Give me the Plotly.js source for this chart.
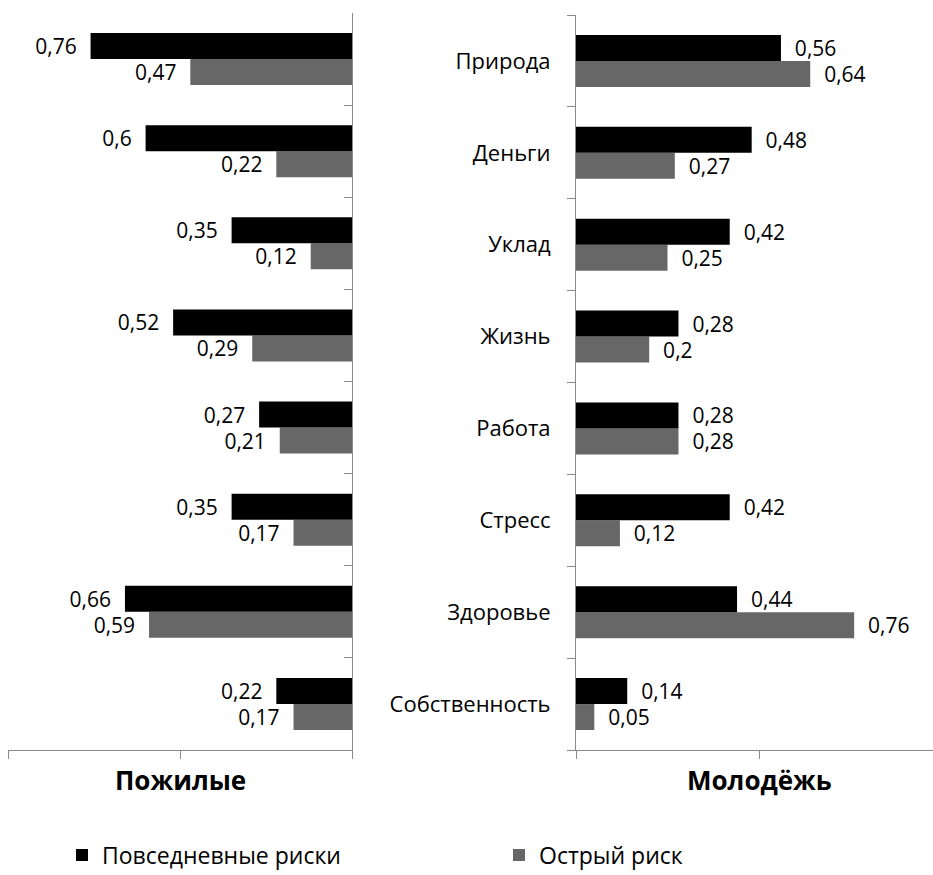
<!DOCTYPE html>
<html>
<head>
<meta charset="utf-8">
<script src="https://cdn.plot.ly/plotly-3.0.1.min.js"></script>
<style>html,body{margin:0;padding:0;background:#fff;}#chart{width:933px;height:875px;}</style>
</head>
<body>
<div id="chart"></div>
<script>
// Categories, listed bottom to top
const categories = ['Собственность', 'Здоровье', 'Стресс', 'Работа', 'Жизнь', 'Уклад', 'Деньги', 'Природа'];
const seriesNames = ['Повседневные риски', 'Острый риск'];

// Пожилые (elderly), bottom to top
const elderlyDaily = [0.22, 0.66, 0.35, 0.27, 0.52, 0.35, 0.60, 0.76];
const elderlyAcute = [0.17, 0.59, 0.17, 0.21, 0.29, 0.12, 0.22, 0.47];

// Молодёжь (youth), bottom to top
const youthDaily = [0.14, 0.44, 0.42, 0.28, 0.28, 0.42, 0.48, 0.56];
const youthAcute = [0.05, 0.76, 0.12, 0.28, 0.20, 0.25, 0.27, 0.64];

const panelTitles = ['Пожилые', 'Молодёжь'];

const FONT = 'Open Sans, Noto Sans, sans-serif';
const BLACK = '#000000';
const GRAY = '#676767';
const AXIS = '#8a8a8a';
const NB = '\u00a0\u00a0';

const fmt = v => String(v).replace('.', ',');

function barTrace(vals, color, name, xa, ya, showlegend, leftSide, legendId) {
  return {
    type: 'bar', orientation: 'h',
    x: vals, y: categories, name: name,
    xaxis: xa, yaxis: ya,
    marker: {color: color},
    text: vals.map(v => leftSide ? fmt(v) + NB : NB + fmt(v)),
    textposition: 'outside',
    constraintext: 'none',
    cliponaxis: false,
    textfont: {family: FONT, size: 21, color: '#000'},
    showlegend: showlegend,
    legend: legendId || 'legend',
    hoverinfo: 'skip'
  };
}

const data = [
  barTrace(elderlyAcute, GRAY, seriesNames[1], 'x', 'y', false, true),
  barTrace(elderlyDaily, BLACK, seriesNames[0], 'x', 'y', false, true),
  barTrace(youthAcute, GRAY, seriesNames[1], 'x2', 'y2', true, false, 'legend2'),
  barTrace(youthDaily, BLACK, seriesNames[0], 'x2', 'y2', true, false, 'legend')
];

const W = 933, H = 875;
const px = v => v / W;
const py = v => (H - v) / H;

const legendBase = {
  orientation: 'h', yanchor: 'middle', xanchor: 'left', y: py(855),
  font: {family: FONT, size: 23, color: '#000'},
  bgcolor: 'rgba(0,0,0,0)'
};

const layout = {
  width: W, height: H,
  margin: {l: 0, r: 0, t: 0, b: 0, autoexpand: false},
  paper_bgcolor: '#fff', plot_bgcolor: '#fff',
  font: {family: FONT, size: 21, color: '#000'},
  barmode: 'group', bargap: 0.435, bargroupgap: 0,
  showlegend: true,
  legend: Object.assign({}, legendBase, {x: px(62)}),
  legend2: Object.assign({}, legendBase, {x: px(499)}),
  xaxis: {
    domain: [px(8), px(352)], range: [1, 0], anchor: 'y',
    showgrid: false, zeroline: false, showline: true, linecolor: AXIS, linewidth: 1,
    ticks: 'outside', ticklen: 8, tickcolor: AXIS, tickvals: [0, 0.5, 1], showticklabels: false,
    fixedrange: true
  },
  yaxis: {
    domain: [py(750), py(13)], anchor: 'x', side: 'right',
    type: 'category', categoryorder: 'array', categoryarray: categories,
    showgrid: false, zeroline: false, showline: true, linecolor: AXIS, linewidth: 1,
    ticks: 'inside', ticklen: 8, tickcolor: AXIS, tickson: 'boundaries', showticklabels: false,
    fixedrange: true
  },
  xaxis2: {
    domain: [px(576), 1], range: [0, (W - 576) / 366], anchor: 'y2',
    showgrid: false, zeroline: false, showline: true, linecolor: AXIS, linewidth: 1,
    ticks: 'outside', ticklen: 8, tickcolor: AXIS, tickvals: [0, 0.5, 1], showticklabels: false,
    fixedrange: true
  },
  yaxis2: {
    domain: [py(750), py(15)], anchor: 'x2',
    type: 'category', categoryorder: 'array', categoryarray: categories,
    showgrid: false, zeroline: false, showline: true, linecolor: AXIS, linewidth: 1,
    ticks: 'outside', ticklen: 8, tickcolor: AXIS, tickson: 'boundaries',
    ticklabelstandoff: 20,
    tickfont: {family: FONT, size: 22, color: '#000'},
    fixedrange: true
  },
  annotations: [
    {text: panelTitles[0], xref: 'x', x: 0.5, yref: 'paper', y: py(780), yanchor: 'middle', xanchor: 'center',
     showarrow: false, font: {family: FONT, size: 26, color: '#000', weight: 'bold'}},
    {text: panelTitles[1], xref: 'x2', x: 0.5, yref: 'paper', y: py(780), yanchor: 'middle', xanchor: 'center',
     showarrow: false, font: {family: FONT, size: 26, color: '#000', weight: 'bold'}}
  ]
};

Plotly.newPlot('chart', data, layout, {displayModeBar: false, staticPlot: true});
</script>
</body>
</html>
